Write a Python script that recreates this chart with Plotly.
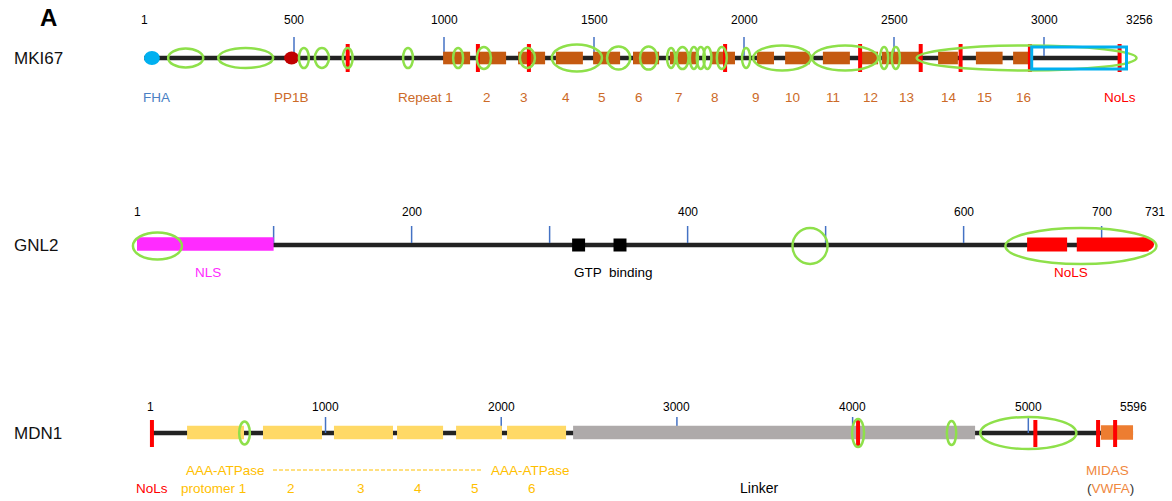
import plotly.graph_objects as go

# ---------------- DATA ----------------
# MKI67
mki67_len = 3256
mki67_tick_marks = [500, 1000, 1500, 2000, 2500, 3000]
mki67_tick_labels = [1, 500, 1000, 1500, 2000, 2500, 3000, 3256]
mki67_fha = [0, 53]
mki67_pp1b = [467, 517]
mki67_repeat_start = [997, 1113, 1247, 1373, 1497, 1630, 1753, 1887, 2043, 2137, 2263, 2387, 2460, 2647, 2773, 2897]
mki67_repeat_end = [1087, 1207, 1337, 1463, 1587, 1717, 1843, 1970, 2100, 2220, 2353, 2447, 2587, 2713, 2862, 2953]
mki67_repeat_names = ["Repeat 1", "2", "3", "4", "5", "6", "7", "8", "9", "10", "11", "12", "13", "14", "15", "16"]
mki67_repeat_label_pos = [937, 1143, 1267, 1407, 1527, 1650, 1783, 1903, 2040, 2163, 2297, 2423, 2543, 2683, 2803, 2930]
mki67_nols_bars = [679, 1113, 1283, 1937, 2387, 2589, 2722, 2953, 3252]
mki67_nols_box = [2959, 3275]
mki67_ell_center = [139, 339, 533, 593, 679, 880, 1047, 1133, 1278, 1443, 1582, 1682, 1757, 1795, 1833, 1856, 1878, 1926, 2007, 2127, 2337, 2467, 2506, 2942]
mki67_ell_width = [117, 183, 33, 47, 33, 33, 33, 47, 50, 167, 77, 57, 27, 40, 27, 27, 27, 33, 27, 193, 220, 27, 27, 733]
mki67_ell_height = [19, 20, 20, 20, 20, 20, 20, 22, 20, 27, 23, 23, 20, 22, 22, 22, 22, 22, 20, 25, 25, 22, 22, 25]

# GNL2
gnl2_len = 731
gnl2_tick_marks = [100, 200, 300, 400, 500, 600, 700]
gnl2_tick_labels = [1, 200, 400, 600, 700, 731]
gnl2_nls = [1, 100]
gnl2_nols_boxes = [[646, 679], [682, 738]]
gnl2_gtp = [321, 351]
gnl2_ell_center = [15.8, 488.7, 685]
gnl2_ell_width = [35.5, 25.4, 109.5]
gnl2_ell_height = [27, 36, 36]

# MDN1
mdn1_len = 5596
mdn1_tick_marks = [1000, 2000, 3000, 4000, 5000]
mdn1_tick_labels = [1, 1000, 2000, 3000, 4000, 5000, 5596]
mdn1_aaa = [[212, 536], [644, 980], [1048, 1384], [1407, 1669], [1743, 2004], [2033, 2369]]
mdn1_aaa_label_pos = [361, 803, 1202, 1526, 1851, 2175]
mdn1_aaa_names = ["protomer 1", "2", "3", "4", "5", "6"]
mdn1_linker = [2409, 4697]
mdn1_midas = [5413, 5596]
mdn1_nols_bars = [12, 4031, 5040, 5397, 5494]
mdn1_ell_center = [539, 4031, 4563, 5000]
mdn1_ell_width = [61, 68, 53, 547]
mdn1_ell_height = [23, 28, 24, 32]

# ---------------- STYLE ----------------
W, H = 1172, 501
FONT = "Liberation Sans, Arial, Helvetica, sans-serif"
BLACK = "#222222"
GREEN = "#8EE04A"
RED = "#FF0000"
TICKBLUE = "#4472C4"
CYAN = "#00B0F0"
BROWN = "#C55A11"
BROWN_TXT = "#CC6A28"
MAGENTA = "#FF2BFF"
YELLOW = "#FFD966"
GOLD = "#FFC000"
GREY = "#AEAAAA"
ORANGE = "#ED7D31"
LBL = 13.5

# pixel mapping per row (px at reference aa, px per aa)
rows = {
    "x": dict(ref=0, px=144, slope=0.3, y=58),       # MKI67
    "x2": dict(ref=1, px=137, slope=1.38, y=245),    # GNL2
    "x3": dict(ref=1, px=150, slope=0.1757, y=433),  # MDN1
}

fig = go.Figure()
shapes = []
annots = []


def rng(r):
    r0 = r["ref"] - r["px"] / r["slope"]
    return [r0, r0 + W / r["slope"]]


def rect(xr, a, b, yc, h, color, line=None, lw=0):
    shapes.append(dict(type="rect", xref=xr, yref="y", x0=a, x1=b, y0=yc - h / 2, y1=yc + h / 2,
                       fillcolor=color if line is None else "rgba(0,0,0,0)",
                       line=dict(color=line or color, width=lw)))


def ellipse(xr, c, w, yc, h, fill=None, line=None, lw=2.5):
    shapes.append(dict(type="circle", xref=xr, yref="y", x0=c - w / 2, x1=c + w / 2,
                       y0=yc - h / 2, y1=yc + h / 2,
                       fillcolor=fill or "rgba(0,0,0,0)",
                       line=dict(color=line or "rgba(0,0,0,0)", width=lw if line else 0)))


def vline(xr, a, y0, y1, color, w):
    shapes.append(dict(type="line", xref=xr, yref="y", x0=a, x1=a, y0=y0, y1=y1,
                       line=dict(color=color, width=w)))


def text(xr, a, y, s, color="black", size=LBL, xshift=0, xanchor="center"):
    annots.append(dict(xref=xr, yref="y", x=a, y=y, text=s, showarrow=False, xshift=xshift,
                       xanchor=xanchor, yanchor="middle",
                       font=dict(family=FONT, size=size, color=color)))


def backbone(xr, length, y):
    fig.add_trace(go.Scatter(x=[1, length], y=[y, y], mode="lines",
                             line=dict(color=BLACK, width=4.5),
                             xaxis=xr, yaxis="y", hoverinfo="skip", showlegend=False))


def ticks(xr, marks, labels, y_line, y_top, y_lab, end_shift):
    for m in marks:
        vline(xr, m, y_top, y_line, TICKBLUE, 1.5)
    for i, l in enumerate(labels):
        text(xr, l, y_lab, str(l), size=12, xshift=end_shift if i == len(labels) - 1 else 0)


# ---------------- MKI67 ----------------
r = rows["x"]; y = r["y"]
backbone("x", mki67_len, y)
ticks("x", mki67_tick_marks, mki67_tick_labels, y - 2, 37, 20, 19)
ellipse("x", sum(mki67_fha) / 2, mki67_fha[1] - mki67_fha[0], y, 14, fill=CYAN)
ellipse("x", sum(mki67_pp1b) / 2, mki67_pp1b[1] - mki67_pp1b[0], y, 13, fill="#C00000")
for a, b in zip(mki67_repeat_start, mki67_repeat_end):
    rect("x", a, b, y, 12.6, BROWN)
for a in mki67_nols_bars:
    vline("x", a, y - 14, y + 14, RED, 4)
for c, w, h in zip(mki67_ell_center, mki67_ell_width, mki67_ell_height):
    ellipse("x", c, w, y, h, line=GREEN)
rect("x", mki67_nols_box[0], mki67_nols_box[1], y, 22, None, line=CYAN, lw=3)
text("x", sum(mki67_fha) / 2 + 15, 97, "FHA", color="#4A80C4")
text("x", sum(mki67_pp1b) / 2, 97, "PP1B", color=BROWN_TXT)
for p, s in zip(mki67_repeat_label_pos, mki67_repeat_names):
    text("x", p, 97, s, color=BROWN_TXT)
text("x", 3253, 97, "NoLs", color=RED)

# ---------------- GNL2 ----------------
r = rows["x2"]; y = r["y"]
backbone("x2", gnl2_len, y)
ticks("x2", gnl2_tick_marks, gnl2_tick_labels, y - 2, 226, 212, 11)
rect("x2", gnl2_nls[0], gnl2_nls[1], y - 1, 13.5, MAGENTA)
for a, b in gnl2_nols_boxes:
    rect("x2", a, b - 4, y - 0.5, 14, RED)
ellipse("x2", gnl2_nols_boxes[-1][1] - 8, 16, y - 0.5, 14, fill=RED)
for g in gnl2_gtp:
    rect("x2", g - 4.7, g + 4.7, y, 13, "black")
for c, w, h in zip(gnl2_ell_center, gnl2_ell_width, gnl2_ell_height):
    ellipse("x2", c, w, y + 1, h, line=GREEN)
text("x2", 52.4, 272, "NLS", color=MAGENTA)
text("x2", 346.6, 272, "GTP  binding", color="black")
text("x2", 677.8, 272, "NoLS", color=RED)

# ---------------- MDN1 ----------------
r = rows["x3"]; y = r["y"]
backbone("x3", mdn1_len, y)
ticks("x3", mdn1_tick_marks, mdn1_tick_labels, y, 417, 407, 0)
for a, b in mdn1_aaa:
    rect("x3", a, b, y - 0.5, 13.6, YELLOW)
rect("x3", mdn1_linker[0], mdn1_linker[1], y - 0.5, 13.6, GREY)
rect("x3", mdn1_midas[0], mdn1_midas[1], y - 0.5, 14.5, ORANGE)
for a in mdn1_nols_bars:
    vline("x3", a, y - 13, y + 14, RED, 4)
for c, w, h in zip(mdn1_ell_center, mdn1_ell_width, mdn1_ell_height):
    ellipse("x3", c, w, y, h, line=GREEN)
text("x3", mdn1_nols_bars[0], 488, "NoLs", color=RED)
text("x3", 429, 470, "AAA-ATPase", color=GOLD)
text("x3", 2164, 470, "AAA-ATPase", color=GOLD)
shapes.append(dict(type="line", xref="x3", yref="y", x0=701, x1=1891, y0=470, y1=470,
                   line=dict(color=GOLD, width=1, dash="4px,2px")))
for p, s in zip(mdn1_aaa_label_pos, mdn1_aaa_names):
    text("x3", p, 488, s, color=GOLD)
text("x3", 3467, 488, "Linker", color="black", size=14)
text("x3", 5453, 470, "MIDAS", color="#F0883E")
text("x3", 5465, 488, "(<span style='color:#F0883E'>VWFA</span>)", color="#333333")

# ---------------- row names & panel letter ----------------
for nm, yy in [("MKI67", 58), ("GNL2", 245), ("MDN1", 433)]:
    annots.append(dict(xref="paper", yref="y", x=12 / W, y=yy, text=nm, showarrow=False,
                       xanchor="left", yanchor="middle",
                       font=dict(family=FONT, size=17, color="#111111")))
annots.append(dict(xref="paper", yref="y", x=48 / W, y=17, text="<b>A</b>", showarrow=False,
                   xanchor="center", yanchor="middle",
                   font=dict(family=FONT, size=24, color="black")))

ax_common = dict(visible=False, domain=[0, 1], fixedrange=True, anchor="y")
fig.update_layout(
    width=W, height=H,
    margin=dict(l=0, r=0, t=0, b=0),
    paper_bgcolor="white", plot_bgcolor="white",
    showlegend=False,
    xaxis=dict(range=rng(rows["x"]), **ax_common),
    xaxis2=dict(range=rng(rows["x2"]), overlaying="x", **ax_common),
    xaxis3=dict(range=rng(rows["x3"]), overlaying="x", **ax_common),
    yaxis=dict(range=[H, 0], visible=False, domain=[0, 1], fixedrange=True),
    shapes=shapes,
    annotations=annots,
)

fig.write_html("out.html")
